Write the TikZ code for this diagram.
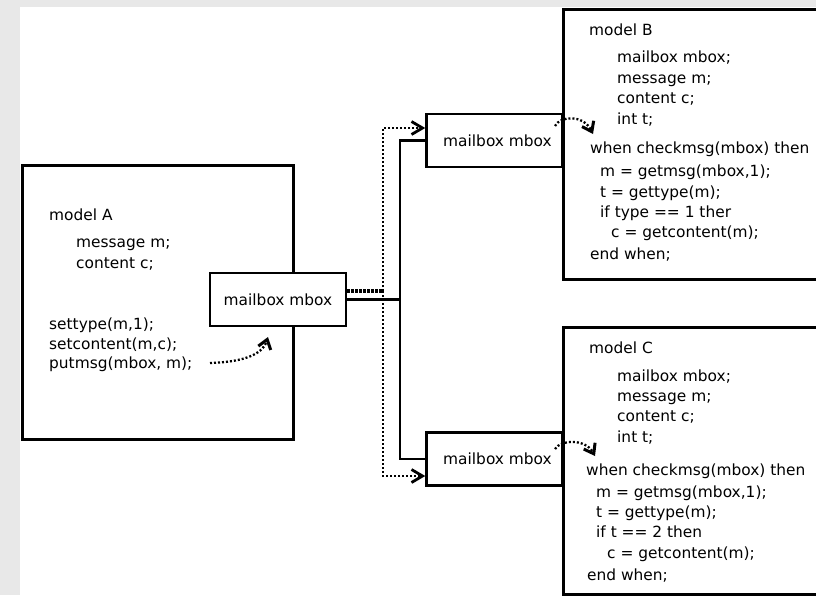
\documentclass[tikz,border=0pt]{standalone}
\usepackage{fontspec}
\setmainfont{DejaVu Sans}
\usetikzlibrary{arrows.meta}
\definecolor{bggray}{HTML}{E8E8E8}
\newcommand\fsz{\fontsize{15.4}{18}\selectfont}
\begin{document}
\begin{tikzpicture}[x=1pt,y=-1pt,
  box/.style={draw, line width=2.5pt, anchor=north west, inner sep=0pt, fill=white},
  mboxstyle/.style={draw, line width=2.5pt, fill=white, inner sep=0pt, font=\fsz, minimum width=136pt, minimum height=53pt},
  txt/.style={anchor=base west, inner sep=0pt, font=\fsz},
  link/.style={line width=2.5pt},
  dots/.style={line width=2.3pt, dash pattern=on 2pt off 2pt},
  tipbig/.style={-{Straight Barb[length=11pt,width=13pt,line width=2.8pt]}},
  tipsmall/.style={-{Straight Barb[length=9pt,width=13pt,line width=3pt]}}
]
\fill[bggray] (0,0) rectangle (816,595);
\fill[white] (20,7) rectangle (816,595);
\useasboundingbox (0,0) rectangle (816,595);

% model boxes
\node[box, minimum width=271pt, minimum height=274pt] (A) at (21,164) {};
\node[box, minimum width=268pt, minimum height=270pt] (B) at (562,8) {};
\node[box, minimum width=268pt, minimum height=267pt] (C) at (562,326) {};

% mailboxes
\node[mboxstyle] (mA) at (278,299.5) {mailbox mbox};
\node[mboxstyle] (mB) at (494.5,140.5) {\hspace{6pt}mailbox mbox};
\node[mboxstyle] (mC) at (494.5,459) {\hspace{6pt}mailbox mbox};

% solid connectors
\coordinate (j) at (400,299.5);
\draw[link] (mA.east) -- (j);
\draw[link] (j) |- (mB.west);
\draw[link] (j) |- (mC.west);

% dotted connectors
\coordinate (dA) at (347,291);
\coordinate (dj) at (383,291);
\draw[dots, line width=4pt, dash pattern=on 2.5pt off 1.5pt] (dA) -- (dj);
\draw[dots, tipbig] (dj) |- ([yshift=12.5pt]mB.west);
\draw[dots, tipbig] (dj) |- ([yshift=-17pt]mC.west);

% curved dotted arrows
\coordinate (aS) at (210,363);
\coordinate (aT) at (268,337);
\draw[dots, tipsmall] (aS) .. controls (240,362) and (262,356) .. (aT);
\coordinate (bS) at (555,126);
\coordinate (bT) at (593,134);
\draw[dots, tipsmall] (bS) .. controls (560,116) and (583,114) .. (bT);
\coordinate (cS) at (555,449);
\coordinate (cT) at (595,456);
\draw[dots, tipsmall] (cS) .. controls (560,440) and (585,438) .. (cT);

% model A text
\node[txt] (a1) at (49,220) {model A};
\node[txt] (a2) at (76,247) {message m;};
\node[txt] (a3) at (76,268) {content c;};
\node[txt] (a4) at (49,329) {settype(m,1);};
\node[txt] (a5) at (49,349) {setcontent(m,c);};
\node[txt] (a6) at (49,368) {putmsg(mbox, m);};

% model B text
\node[txt] (b1) at (589,35) {model B};
\node[txt] (b2) at (617,62) {mailbox mbox;};
\node[txt] (b3) at (617,83) {message m;};
\node[txt] (b4) at (617,103) {content c;};
\node[txt] (b5) at (617,124) {int t;};
\node[txt] (b6) at (590,153) {when checkmsg(mbox) then};
\node[txt] (b7) at (600,176) {m = getmsg(mbox,1);};
\node[txt] (b8) at (600,197) {t = gettype(m);};
\node[txt] (b9) at (600,217) {if type == 1 ther};
\node[txt] (b10) at (611,237) {c = getcontent(m);};
\node[txt] (b11) at (590,259) {end when;};

% model C text
\node[txt] (c1) at (589,353) {model C};
\node[txt] (c2) at (617,381) {mailbox mbox;};
\node[txt] (c3) at (617,401) {message m;};
\node[txt] (c4) at (617,421) {content c;};
\node[txt] (c5) at (617,442) {int t;};
\node[txt] (c6) at (586,475) {when checkmsg(mbox) then};
\node[txt] (c7) at (596,497) {m = getmsg(mbox,1);};
\node[txt] (c8) at (596,517) {t = gettype(m);};
\node[txt] (c9) at (596,537) {if t == 2 then};
\node[txt] (c10) at (607,558) {c = getcontent(m);};
\node[txt] (c11) at (587,580) {end when;};
\end{tikzpicture}
\end{document}
